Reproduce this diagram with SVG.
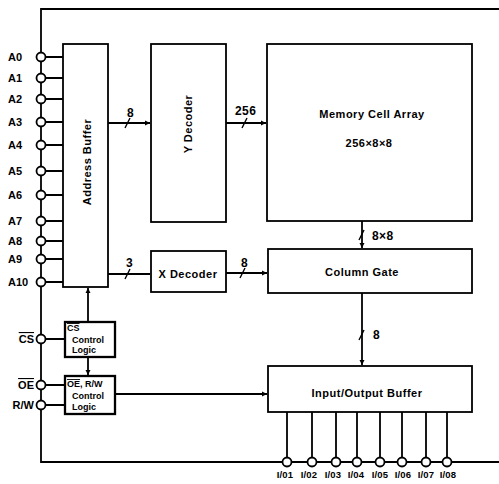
<svg xmlns="http://www.w3.org/2000/svg" width="499" height="484" viewBox="0 0 499 484">
<style>
  .box{fill:#fff;stroke:#000;stroke-width:1.8}
  .cbox{fill:#fff;stroke:#000;stroke-width:2.3}
  .ln{fill:none;stroke:#000;stroke-width:1.8}
  .sl{fill:none;stroke:#000;stroke-width:1.4}
  .pin{fill:#fff;stroke:#000;stroke-width:1.8}
  text{font-family:"Liberation Sans",Arial,sans-serif;font-weight:bold;fill:#000}
  .pl{font-size:11px}
  .pr{font-size:11px;text-anchor:end}
  .t{font-size:11px;text-anchor:middle;letter-spacing:0.5px}
  .n{font-size:12px;letter-spacing:0.4px}
  .s{font-size:9px}
  .io{font-size:9.5px;text-anchor:middle;letter-spacing:0.2px}
  .ol{text-decoration:overline}
</style>
<defs>
  <marker id="ah" markerWidth="6" markerHeight="6" refX="5" refY="3" orient="auto" markerUnits="userSpaceOnUse">
    <path d="M0,0.5 L5,3 L0,5.5 Z" fill="#000"/>
  </marker>
</defs>

<g id="connectors">
  <path class="ln" d="M499,9 H41 V462 H499"/>
  <path class="ln" d="M41,57 H63 M41,78 H63 M41,99 H63 M41,122 H63 M41,145 H63 M41,171 H63 M41,195 H63 M41,221 H63 M41,241 H63 M41,259 H63 M41,282 H63"/>
  <path class="ln" d="M41,339 H65 M41,385 H65 M41,405 H65"/>
  <path class="ln" d="M108,123 H150" marker-end="url(#ah)"/>
  <path class="sl" d="M125,128 L130,118"/>
  <text class="n" x="127" y="117">8</text>
  <path class="ln" d="M226,123 H266" marker-end="url(#ah)"/>
  <path class="sl" d="M242,128 L247,118"/>
  <text class="n" x="235" y="115">256</text>
  <path class="ln" d="M108,274 H150"/>
  <path class="sl" d="M125,279 L130,269"/>
  <text class="n" x="126" y="267">3</text>
  <path class="ln" d="M226,273 H267" marker-end="url(#ah)"/>
  <path class="sl" d="M240,278 L245,268"/>
  <text class="n" x="241" y="267">8</text>
  <path class="ln" d="M362,221 V248" marker-end="url(#ah)"/>
  <path class="sl" d="M359,240 L364,230"/>
  <text class="n" x="372" y="240">8×8</text>
  <path class="ln" d="M362,293 V365" marker-end="url(#ah)"/>
  <path class="sl" d="M359,340 L364,330"/>
  <text class="n" x="373" y="339">8</text>
  <path class="ln" d="M88,322 V288" marker-end="url(#ah)"/>
  <path class="ln" d="M88,357 V375" marker-end="url(#ah)"/>
  <path class="ln" d="M115,394 H267" marker-end="url(#ah)"/>
  <path class="ln" d="M287,412 V458 M312,412 V458 M336,412 V458 M357,412 V458 M380,412 V458 M402,412 V458 M426,412 V458 M447,412 V458"/>
</g>

<g id="addr-pins">
  <circle class="pin" cx="41" cy="57" r="4.5"/><text class="pl" x="8" y="61">A0</text>
  <circle class="pin" cx="41" cy="78" r="4.5"/><text class="pl" x="8" y="82">A1</text>
  <circle class="pin" cx="41" cy="99" r="4.5"/><text class="pl" x="8" y="103">A2</text>
  <circle class="pin" cx="41" cy="122" r="4.5"/><text class="pl" x="8" y="126">A3</text>
  <circle class="pin" cx="41" cy="145" r="4.5"/><text class="pl" x="8" y="149">A4</text>
  <circle class="pin" cx="41" cy="171" r="4.5"/><text class="pl" x="8" y="175">A5</text>
  <circle class="pin" cx="41" cy="195" r="4.5"/><text class="pl" x="8" y="199">A6</text>
  <circle class="pin" cx="41" cy="221" r="4.5"/><text class="pl" x="8" y="225">A7</text>
  <circle class="pin" cx="41" cy="241" r="4.5"/><text class="pl" x="8" y="245">A8</text>
  <circle class="pin" cx="41" cy="259" r="4.5"/><text class="pl" x="8" y="263">A9</text>
  <circle class="pin" cx="41" cy="282" r="4.5"/><text class="pl" x="8" y="286">A10</text>
</g>

<g id="ctrl-pins">
  <circle class="pin" cx="41" cy="339" r="4.5"/><text class="pr ol" x="34" y="343">CS</text>
  <circle class="pin" cx="41" cy="385" r="4.5"/><text class="pr ol" x="34" y="389">OE</text>
  <circle class="pin" cx="41" cy="405" r="4.5"/><text class="pr" x="34" y="409">R/W</text>
</g>

<g id="address-buffer">
  <rect class="box" x="63" y="44" width="45" height="243"/>
  <text class="t" transform="translate(91,162) rotate(-90)">Address Buffer</text>
</g>

<g id="y-decoder">
  <rect class="box" x="151" y="44" width="75" height="178"/>
  <text class="t" transform="translate(192,124) rotate(-90)">Y Decoder</text>
</g>

<g id="memory-cell-array">
  <rect class="box" x="267" y="44" width="205" height="177"/>
  <text class="t" x="372" y="118">Memory Cell Array</text>
  <text class="t" x="369" y="147">256×8×8</text>
</g>

<g id="x-decoder">
  <rect class="box" x="151" y="251" width="75" height="41"/>
  <text class="t" x="188" y="278">X Decoder</text>
</g>

<g id="column-gate">
  <rect class="box" x="268" y="249" width="204" height="44"/>
  <text class="t" x="362" y="276">Column Gate</text>
</g>

<g id="io-buffer">
  <rect class="box" x="268" y="366" width="204" height="46"/>
  <text class="t" x="367" y="397">Input/Output Buffer</text>
</g>

<g id="cs-control">
  <rect class="cbox" x="65" y="322" width="50" height="35"/>
  <text class="s ol" x="67" y="331">CS</text>
  <text class="s" x="72" y="343">Control</text>
  <text class="s" x="72" y="353">Logic</text>
</g>

<g id="oe-rw-control">
  <rect class="cbox" x="65" y="376" width="50" height="38"/>
  <text class="s" x="67" y="387"><tspan class="ol">OE</tspan>, R/W</text>
  <text class="s" x="72" y="399">Control</text>
  <text class="s" x="72" y="410">Logic</text>
</g>

<g id="io-pins">
  <circle class="pin" cx="287" cy="462" r="4.5"/><text class="io" x="285" y="478">I/01</text>
  <circle class="pin" cx="312" cy="462" r="4.5"/><text class="io" x="309" y="478">I/02</text>
  <circle class="pin" cx="336" cy="462" r="4.5"/><text class="io" x="333" y="478">I/03</text>
  <circle class="pin" cx="357" cy="462" r="4.5"/><text class="io" x="356" y="478">I/04</text>
  <circle class="pin" cx="380" cy="462" r="4.5"/><text class="io" x="380" y="478">I/05</text>
  <circle class="pin" cx="402" cy="462" r="4.5"/><text class="io" x="403" y="478">I/06</text>
  <circle class="pin" cx="426" cy="462" r="4.5"/><text class="io" x="426" y="478">I/07</text>
  <circle class="pin" cx="447" cy="462" r="4.5"/><text class="io" x="448" y="478">I/08</text>
</g>
</svg>
